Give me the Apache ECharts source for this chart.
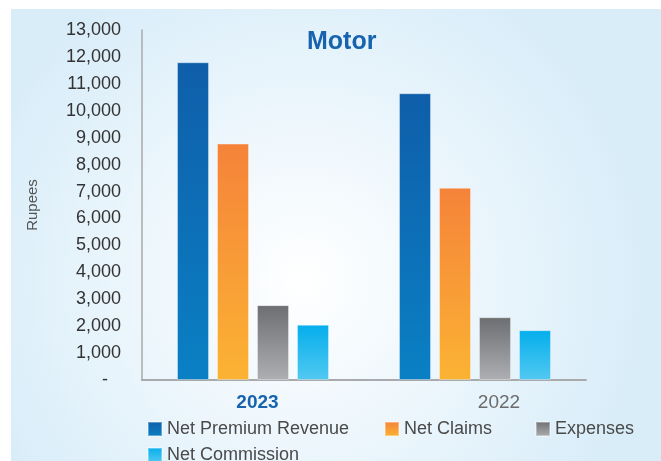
<!DOCTYPE html>
<html>
<head>
<meta charset="utf-8">
<script src="https://cdn.jsdelivr.net/npm/echarts@6/dist/echarts.min.js"></script>
<style>html,body{margin:0;padding:0;background:#fff;}#c{width:661px;height:461px;}</style>
</head>
<body>
<div id="c"></div>
<script>
const categories = ['2023', '2022'];
const netPremiumRevenue = [11800, 10650];
const netClaims = [8780, 7140];
const expenses = [2780, 2330];
const netCommission = [2050, 1850];
const seriesNames = ['Net Premium Revenue', 'Net Claims', 'Expenses', 'Net Commission'];
const yTicks = { min: 0, max: 13000, interval: 1000 };

const FONT = '"Liberation Sans", Arial, sans-serif';
function grad(top, bottom) {
  return new echarts.graphic.LinearGradient(0, 0, 0, 1, [
    { offset: 0, color: top }, { offset: 1, color: bottom }
  ]);
}
const colors = [
  grad('#0f5ea9', '#0a80c4'),
  grad('#f5833a', '#fbb333'),
  grad('#6d6e71', '#aeafb2'),
  grad('#04aeec', '#52c9f1')
];
const values = [netPremiumRevenue, netClaims, expenses, netCommission];

const chart = echarts.init(document.getElementById('c'), null, { renderer: 'canvas' });
const legendPos = [
  { left: 147, top: 420 },
  { left: 384, top: 420 },
  { left: 535, top: 420 },
  { left: 147, top: 446 }
];
chart.setOption({
  animation: false,
  textStyle: { fontFamily: FONT },
  graphic: [{
    type: 'rect', left: 11, top: 9, z: -10, silent: true,
    shape: { width: 650, height: 452 },
    style: {
      fill: new echarts.graphic.RadialGradient(0.45, 0.6, 0.75, [
        { offset: 0, color: '#ffffff' }, { offset: 1, color: '#d9edf9' }
      ])
    }
  }],
  title: {
    text: 'Motor', left: 302, top: 25,
    textStyle: { color: '#1763ae', fontSize: 25, fontWeight: 'bold', fontFamily: FONT }
  },
  legend: legendPos.map((p, i) => ({
    data: [seriesNames[i]], left: p.left, top: p.top, padding: 0,
    itemWidth: 14, itemHeight: 14, icon: 'rect', itemGap: 0,
    textStyle: { color: '#4a4a4a', fontSize: 18, lineHeight: 18, fontFamily: FONT }
  })),
  grid: { left: 142, right: 75, top: 30, bottom: 81, containLabel: false },
  xAxis: {
    type: 'category', data: categories,
    axisLine: { lineStyle: { color: '#a9aaad', width: 2 } },
    axisTick: { show: false },
    axisLabel: {
      margin: 13,
      formatter: (v, i) => i === 0 ? '{a|' + v + '}' : '{b|' + v + '}',
      rich: {
        a: { color: '#1763ae', fontSize: 19, fontWeight: 'bold', fontFamily: FONT, padding: [0, 0, 0, 9] },
        b: { color: '#6b6b6b', fontSize: 19, fontFamily: FONT, padding: [0, 0, 0, 48] }
      }
    }
  },
  yAxis: {
    type: 'value', min: yTicks.min, max: yTicks.max, interval: yTicks.interval,
    name: 'Rupees', nameLocation: 'middle', nameGap: 102, nameRotate: 90,
    nameTextStyle: { color: '#555', fontSize: 15, fontFamily: FONT },
    axisLine: { show: true, lineStyle: { color: '#a9aaad', width: 1.5 } },
    axisTick: { show: false },
    splitLine: { show: false },
    axisLabel: {
      margin: 21, color: '#333', fontSize: 18, fontFamily: FONT,
      formatter: v => v === 0 ? '{d|-}' : v.toLocaleString('en-US'),
      rich: { d: { color: '#333', fontSize: 18, fontFamily: FONT, padding: [0, 13, 0, 0] } }
    }
  },
  series: seriesNames.map((n, i) => ({
    name: n, type: 'bar', data: values[i],
    barWidth: 32, barGap: '25%', barCategoryGap: '31.5%',
    itemStyle: { color: colors[i], borderColor: 'rgba(255,255,255,0.35)', borderWidth: 1 }
  }))
});
</script>
</body>
</html>
